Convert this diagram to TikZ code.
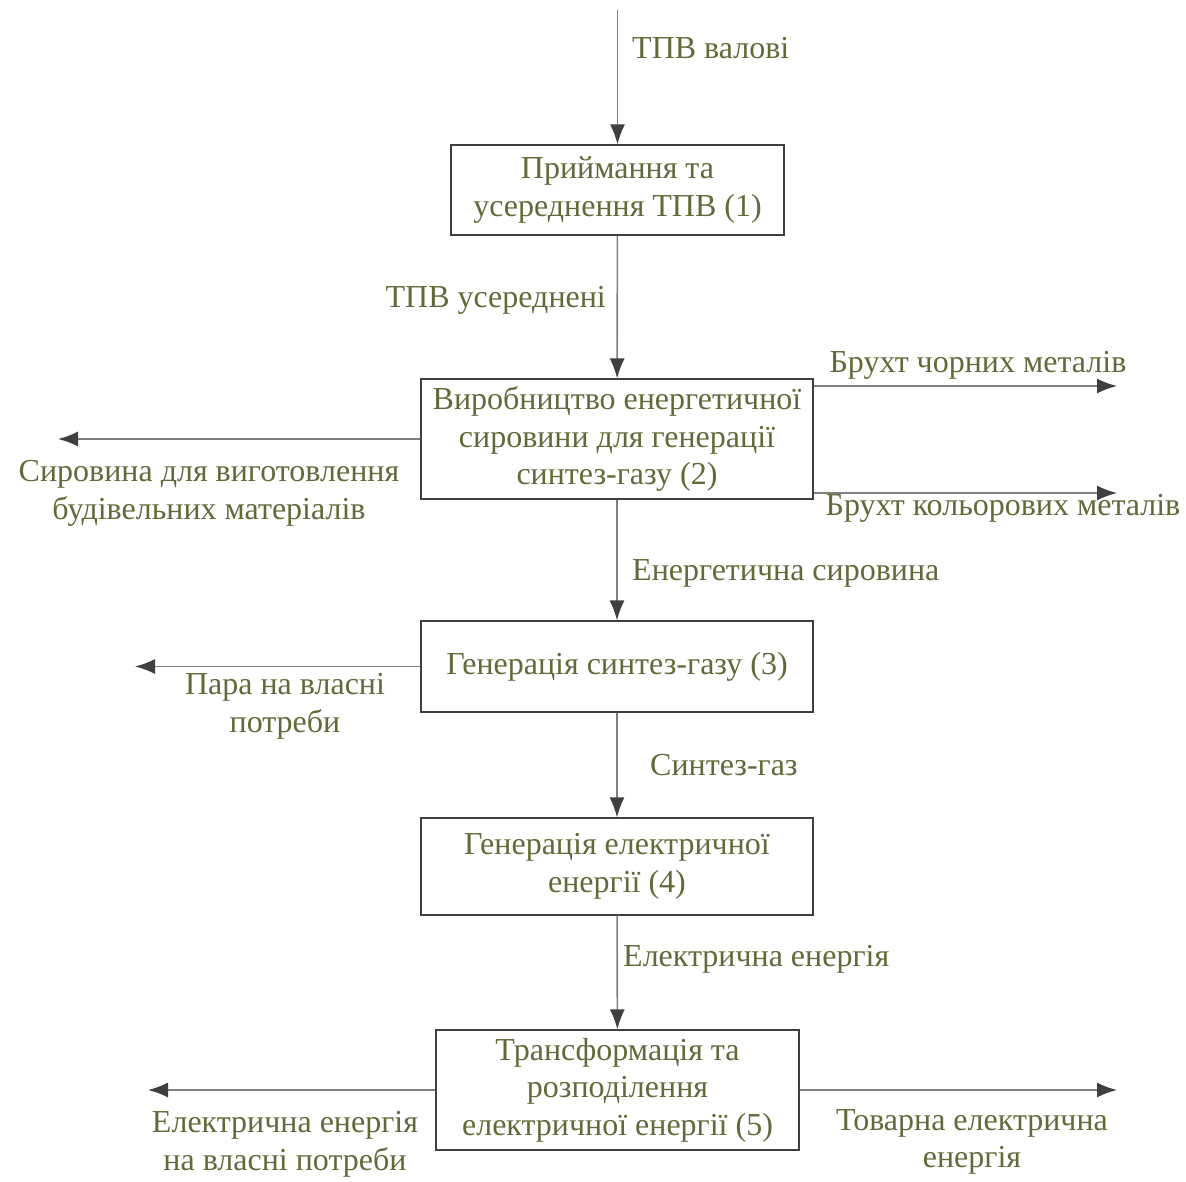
\documentclass[tikz,border=0pt]{standalone}
\usepackage{fontspec}
\setmainfont{Liberation Serif}
\usetikzlibrary{arrows.meta}
\definecolor{txtgreen}{HTML}{5F6B3A}
\definecolor{linegray}{HTML}{808080}
\definecolor{tipgray}{HTML}{3F3F3F}

\begin{document}
\begin{tikzpicture}[x=1pt, y=-1pt,
  stage/.style={draw=tipgray, line width=1.2pt, text=txtgreen, align=center, inner sep=0pt, font=\fontsize{32}{37.5}\selectfont},
  flow/.style={text=txtgreen, align=center, inner sep=0pt, font=\fontsize{32}{37.5}\selectfont},
  arr/.style={draw=linegray, line width=1.6pt, -{Latex[length=20pt,width=15pt,color=tipgray]}}]
\useasboundingbox (0,0) rectangle (1186,1182);
\node (b1) at (617.5,190) [stage, minimum width=333pt, minimum height=90pt] {Приймання та\\усереднення ТПВ (1)};
\node (b2) at (617,439) [stage, minimum width=392pt, minimum height=120pt] {Виробництво енергетичної\\сировини для генерації\\синтез-газу (2)};
\node (b3) at (617,666.5) [stage, minimum width=392pt, minimum height=91pt] {Генерація синтез-газу (3)};
\node (b4) at (617,866.5) [stage, minimum width=392pt, minimum height=97pt] {Генерація електричної\\енергії (4)};
\node (b5) at (617.5,1090) [stage, minimum width=363pt, minimum height=120pt] {Трансформація та\\розподілення\\електричної енергії (5)};
\coordinate (top) at (617.5,10);
\coordinate (r1) at (1117,386);
\coordinate (r2) at (1117,493);
\coordinate (s2) at (58,439);
\coordinate (s3) at (135,666.5);
\coordinate (s5) at (148,1090);
\coordinate (r5) at (1117,1090);
\draw [arr] (top) -- (b1);
\draw [arr] (b1) -- (b2);
\draw [arr] (b2) -- (b3);
\draw [arr] (b3) -- (b4);
\draw [arr] (b4) -- (b5);
\draw [arr] (b2.east |- r1) -- (r1);
\draw [arr] (b2.east |- r2) -- (r2);
\draw [arr] (b2.west) -- (s2);
\draw [arr] (b3.west) -- (s3);
\draw [arr] (b5.west) -- (s5);
\draw [arr] (b5.east) -- (r5);
\node (l0) at (632,48) [flow, anchor=west] {ТПВ валові};
\node (l1) at (606,300) [flow, anchor=east] {ТПВ усереднені};
\node (l2a) at (978,365) [flow] {Брухт чорних металів};
\node (l2b) at (1003,508) [flow] {Брухт кольорових металів};
\node (l2c) at (209,493.5) [flow] {Сировина для виготовлення\\будівельних матеріалів};
\node (l3) at (632,573) [flow, anchor=west] {Енергетична сировина};
\node (l3c) at (285,706.5) [flow] {Пара на власні\\потреби};
\node (l4) at (650,765) [flow, anchor=west] {Синтез-газ};
\node (l5) at (623,959) [flow, anchor=west] {Електрична енергія};
\node (l5c) at (285,1144.5) [flow] {Електрична енергія\\на власні потреби};
\node (l5d) at (972,1142) [flow] {Товарна електрична\\енергія};
\end{tikzpicture}
\end{document}
